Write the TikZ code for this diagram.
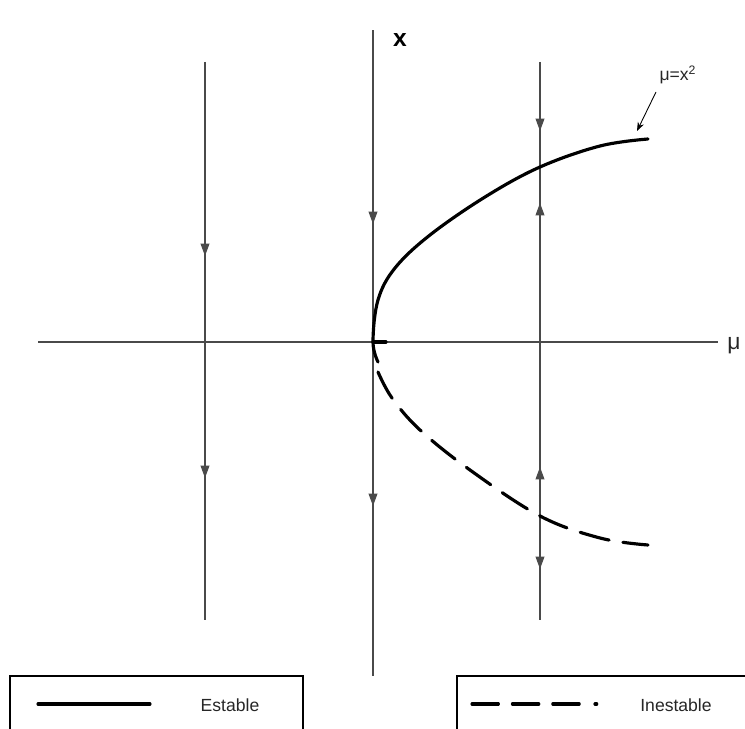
\documentclass[tikz,border=0pt]{standalone}
\usepackage{fontspec}
\setmainfont{Liberation Sans}
\usetikzlibrary{positioning, arrows.meta}
\definecolor{axisgray}{HTML}{4A4A4A}

\begin{document}
\begin{tikzpicture}[x=0.02cm, y=-0.02cm,
  axis/.style={draw=axisgray, line width=0.6pt},
  flow/.style={draw=axisgray, line width=0.6pt},
  flowtip/.style={draw=axisgray, line width=0.6pt, -{Triangle[length=7pt, width=5pt]}},
  stable/.style={line width=1.8pt, line cap=round},
  unstable/.style={line width=1.8pt, line cap=round, dash pattern=on 17pt off 8pt},
  legendbox/.style={draw=black, line width=0.6pt},
  lbl/.style={font=\fontsize{10}{12}\selectfont, text=black!85}
]
  \useasboundingbox (0,0) rectangle (745,729);

  % axes
  \coordinate (muL) at (38,342);
  \coordinate (muR) at (718,342);
  \coordinate (xB)  at (373,676);
  \coordinate (xT)  at (373,30);
  \draw[axis] (muL) -- (muR);
  \draw[axis] (xB) -- (xT);
  \node[font=\fontsize{14}{16}\selectfont\bfseries] (xlab) at (400,40) {x};
  \node[font=\fontsize{13}{15}\selectfont, text=black!85] (mulab) at (734,346) {μ};

  % flow lines
  \draw[flow] (205,62) -- (205,620);
  \draw[flow] (540,62) -- (540,620);
  \draw[flowtip] (205,240) -- (205,256);
  \draw[flowtip] (205,460) -- (205,478);
  \draw[flowtip] (373,205) -- (373,224);
  \draw[flowtip] (373,488) -- (373,506);
  \draw[flowtip] (540,115) -- (540,131);
  \draw[flowtip] (540,218) -- (540,203);
  \draw[flowtip] (540,484) -- (540,467);
  \draw[flowtip] (540,552) -- (540,569);

  % branches
  \coordinate (orig) at (373,342);
  \draw[stable] (386,342) -- (orig);
  \draw[stable] plot[smooth, tension=0.6] coordinates
    {(378,362) (373,342) (378,300) (395,268) (430,235) (485,197) (540,167) (600,146) (648,139)};
  \draw[unstable] plot[smooth, tension=0.6] coordinates
    {(378,372) (392,398) (420,430) (470,470) (540,516) (600,538) (648,545)};

  % label of the curve
  \coordinate (curvept) at (637,131);
  \node[font=\fontsize{10}{12}\selectfont, text=black!85] (parlab) at (678,75) {μ=x\textsuperscript{2}};
  \draw[-{Stealth[length=5pt]}, line width=0.5pt] (656,92) -- (curvept);

  % legend
  \draw[legendbox] (10,740) |- (303,676) -- (303,740);
  \draw[legendbox] (457,740) |- (760,676);
  \draw[stable] (38,704) -- (150,704);
  \node[lbl] (stab) at (230,705) {Estable};
  \draw[line width=1.8pt, line cap=round,
        dash pattern=on 15pt off 8pt on 15pt off 8pt on 15pt off 9pt on 1pt off 20pt]
    (472,704) -- (604,704);
  \node[lbl] (unstab) at (676,705) {Inestable};
\end{tikzpicture}
\end{document}
